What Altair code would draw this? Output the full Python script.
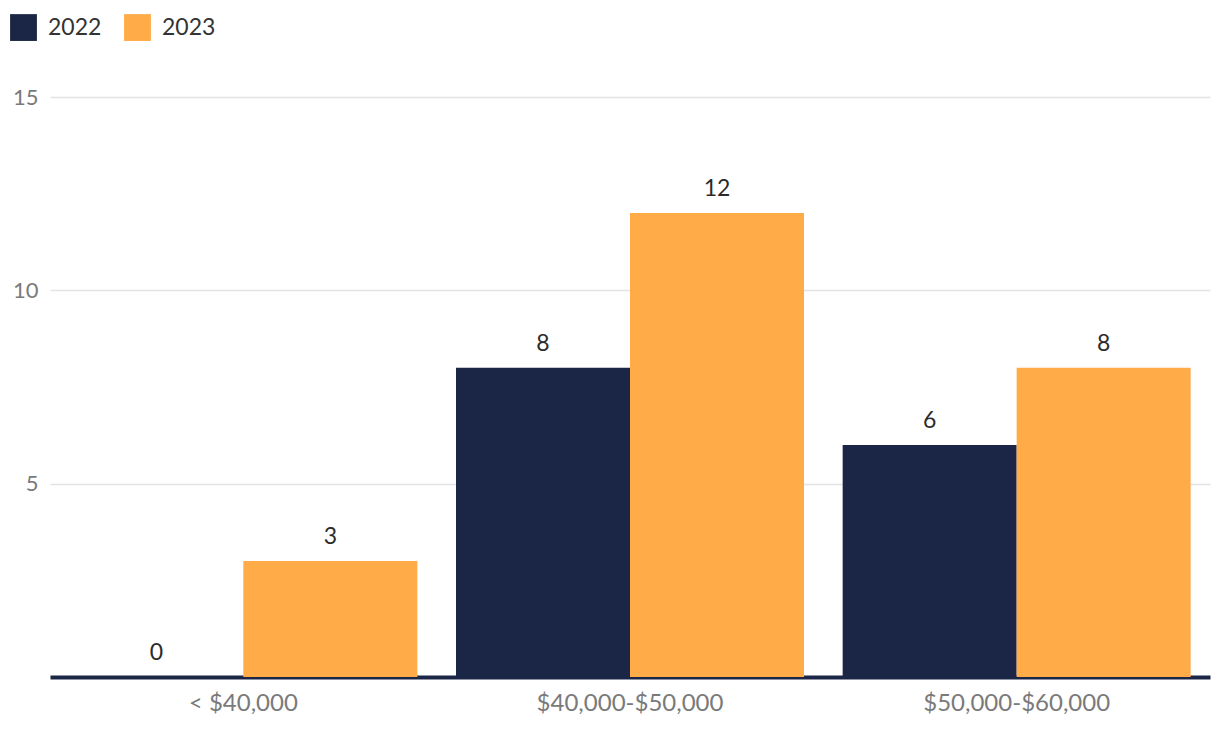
import altair as alt
import pandas as pd

categories = ["< $40,000", "$40,000-$50,000", "$50,000-$60,000"]
years = ["2022", "2023"]
values_2022 = [0, 8, 6]
values_2023 = [3, 12, 8]
colors = ["#1b2646", "#ffab47"]

rows = []
for c, v in zip(categories, values_2022):
    rows.append({"category": c, "year": "2022", "value": v})
for c, v in zip(categories, values_2023):
    rows.append({"category": c, "year": "2023", "value": v})
df = pd.DataFrame(rows)

FONT = "Lato"

x = alt.X("category:N", sort=categories, title=None,
          scale=alt.Scale(paddingInner=0.1, paddingOuter=0.05),
          axis=alt.Axis(labelAngle=0, labelFont=FONT, labelFontSize=24,
                        labelColor="#7a7a7a", labelPadding=14, ticks=False,
                        labelLimit=0,
                        domainColor="#1b2646", domainWidth=4, grid=False))
y = alt.Y("value:Q", title=None,
          scale=alt.Scale(domain=[0, 15], nice=False),
          axis=alt.Axis(values=[5, 10, 15], labelFont=FONT, labelFontSize=22,
                        labelColor="#7a7a7a", labelPadding=12, ticks=False,
                        domain=False, gridColor="#e3e3e3", gridWidth=1.5))
xo = alt.XOffset("year:N", sort=years, scale=alt.Scale(paddingInner=0, paddingOuter=0))

bars = alt.Chart(df).mark_bar().encode(
    x=x, y=y, xOffset=xo,
    color=alt.Color("year:N", sort=years,
                    scale=alt.Scale(domain=years, range=colors),
                    legend=alt.Legend(title=None, orient="none", direction="horizontal",
                                      legendX=-40, legendY=-83,
                                      symbolType="square", symbolSize=720,
                                      symbolStrokeWidth=0, symbolOpacity=1,
                                      labelFont=FONT, labelFontSize=23,
                                      labelColor="#333333", columnPadding=22,
                                      labelOffset=11)),
)

labels = alt.Chart(df).mark_text(baseline="bottom", dy=-12, font=FONT,
                                 fontSize=23, color="#2b2b2b").encode(
    x=alt.X("category:N", sort=categories), y="value:Q", xOffset=xo,
    text="value:Q",
)

chart = (bars + labels).properties(
    width=1160, height=580,
    autosize=alt.AutoSizeParams(type="none"),
    padding={"left": 42, "top": 89, "right": 2, "bottom": 50},
).configure_view(stroke=None).configure_axis(labelFont=FONT)

chart.save("out.html", embed_options={"renderer": "svg", "actions": False})
